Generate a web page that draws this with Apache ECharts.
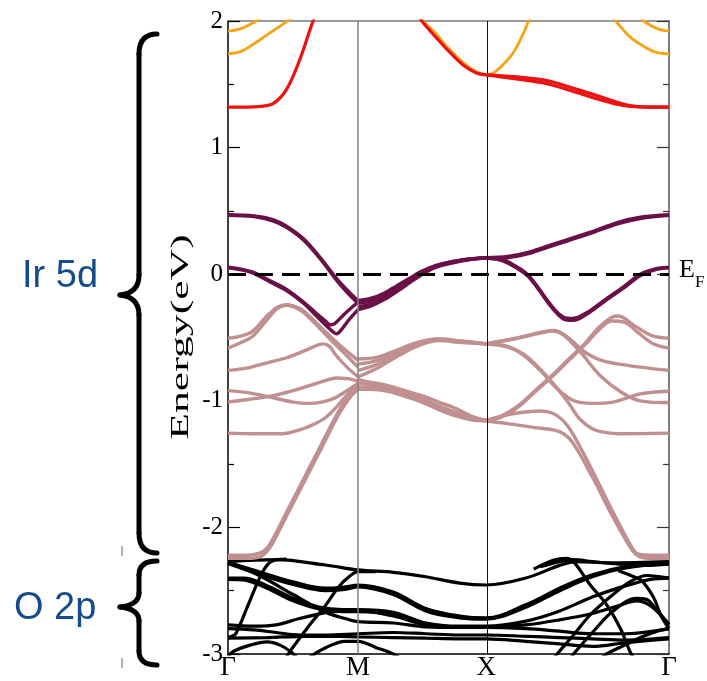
<!DOCTYPE html>
<html><head><meta charset="utf-8">
<script src="https://cdn.jsdelivr.net/npm/echarts@6/dist/echarts.min.js"></script>
<style>html,body{margin:0;padding:0;background:#fff}#c{width:707px;height:681px}</style>
</head><body><div id="c"></div>
<script>
// ---- axis data ----
const kPoints = [0, 1, 1.985, 3.39];
const kLabels = ['Γ', 'M', 'X', 'Γ'];
const energyMin = -3, energyMax = 2, energyStep = 1;
const fermiLevel = 0;

// ---- red / orange (upper Ir 5d) bands: [k, E] ----
const red1 = [[0,1.32],[0.15,1.32],[0.246,1.325],[0.35,1.35],[0.45,1.46],[0.55,1.69],[0.63,1.93],[0.68,2.08]];
const redLX = [[1.45,2.07],[1.49,2.0],[1.6,1.87],[1.68,1.78],[1.81,1.65],[1.91,1.59],[1.985,1.575]];
const redXG1 = [[1.985,1.575],[2.2,1.56],[2.45,1.53],[2.65,1.47],[2.84,1.41],[3.0,1.355],[3.1,1.33],[3.25,1.32],[3.39,1.32]];
const redXG2 = [[1.985,1.575],[2.2,1.545],[2.45,1.505],[2.65,1.445],[2.84,1.385],[3.0,1.34],[3.1,1.325],[3.25,1.32],[3.39,1.32]];
const orgG1 = [[0,1.92],[0.1,1.94],[0.2,1.99],[0.28,2.05]];
const orgG2 = [[0,1.74],[0.1,1.76],[0.2,1.82],[0.3,1.89],[0.4,1.96],[0.5,2.03]];
const orgLX = [[1.45,2.07],[1.5,2.0],[1.6,1.9],[1.68,1.80],[1.81,1.67],[1.91,1.60],[1.985,1.575]];
const orgRX = [[1.985,1.575],[2.04,1.59],[2.09,1.63],[2.19,1.745],[2.27,1.9],[2.31,2.0],[2.34,2.07]];
const orgGR1 = [[3.15,2.05],[3.195,2.0],[3.3,1.94],[3.39,1.92]];
const orgGR2 = [[2.93,2.06],[2.98,2.0],[3.09,1.875],[3.22,1.785],[3.3,1.75],[3.39,1.74]];

// ---- purple bands near E_F ----
const pur1a = [[0,0.47],[0.2,0.46],[0.35,0.43],[0.45,0.38],[0.58,0.28],[0.71,0.13],[0.84,-0.04],[0.93,-0.14],[1.0,-0.21]];
const pur1b = [[0,0.465],[0.2,0.455],[0.35,0.42],[0.45,0.37],[0.58,0.27],[0.71,0.12],[0.84,-0.055],[0.93,-0.16],[1.0,-0.23]];
const pur2a = [[0,0.055],[0.1,0.04],[0.19,0.016],[0.32,-0.05],[0.45,-0.12],[0.58,-0.22],[0.68,-0.31],[0.75,-0.37],[0.785,-0.40],[0.82,-0.39],[0.9,-0.31],[1.0,-0.22]];
const pur2b = [[0,0.05],[0.1,0.035],[0.19,0.01],[0.32,-0.06],[0.45,-0.13],[0.58,-0.23],[0.7,-0.35],[0.78,-0.43],[0.836,-0.47],[0.87,-0.44],[0.93,-0.36],[1.0,-0.28]];
const purMX1 = [[1.0,-0.21],[1.1,-0.19],[1.2,-0.15],[1.3,-0.09],[1.4,-0.03],[1.48,0.02],[1.6,0.07],[1.73,0.1],[1.86,0.12],[1.985,0.13]];
const purMX2 = [[1.0,-0.23],[1.1,-0.21],[1.2,-0.17],[1.3,-0.11],[1.4,-0.045],[1.48,0.01],[1.6,0.065],[1.73,0.1],[1.86,0.12],[1.985,0.13]];
const purMX3 = [[1.0,-0.26],[1.1,-0.235],[1.2,-0.185],[1.3,-0.12],[1.4,-0.055],[1.48,0.0],[1.6,0.06],[1.73,0.095],[1.86,0.118],[1.985,0.13]];
const purMX4 = [[1.0,-0.28],[1.1,-0.25],[1.2,-0.2],[1.3,-0.135],[1.4,-0.065],[1.48,-0.01],[1.6,0.055],[1.73,0.09],[1.86,0.115],[1.985,0.13]];
const purXG1a = [[1.985,0.13],[2.15,0.14],[2.3,0.17],[2.45,0.22],[2.6,0.27],[2.78,0.33],[3.0,0.41],[3.17,0.45],[3.39,0.47]];
const purXG1b = [[1.985,0.125],[2.15,0.13],[2.3,0.16],[2.45,0.21],[2.6,0.26],[2.78,0.32],[3.0,0.40],[3.17,0.44],[3.39,0.465]];
const purXG2a = [[1.985,0.13],[2.1,0.12],[2.2,0.07],[2.3,0.0],[2.38,-0.1],[2.45,-0.2],[2.52,-0.29],[2.58,-0.34],[2.65,-0.35],[2.78,-0.29],[2.9,-0.2],[3.04,-0.1],[3.17,0.0],[3.28,0.04],[3.39,0.055]];
const purXG2b = [[1.985,0.125],[2.1,0.11],[2.2,0.06],[2.3,-0.01],[2.38,-0.11],[2.45,-0.21],[2.52,-0.30],[2.58,-0.355],[2.65,-0.365],[2.78,-0.30],[2.9,-0.21],[3.04,-0.11],[3.17,-0.01],[3.28,0.035],[3.39,0.05]];

// ---- pink bands ----
const pkA1 = [[0,-0.506],[0.1,-0.49],[0.19,-0.45],[0.3,-0.33],[0.38,-0.26],[0.45,-0.24],[0.55,-0.27],[0.625,-0.33],[0.754,-0.46],[0.88,-0.58],[1.0,-0.68]];
const pkA2 = [[0,-0.585],[0.1,-0.54],[0.19,-0.49],[0.3,-0.36],[0.38,-0.27],[0.45,-0.245],[0.55,-0.28],[0.625,-0.345],[0.754,-0.48],[0.88,-0.61],[1.0,-0.735]];
const pkB = [[0,-0.76],[0.15,-0.74],[0.3,-0.70],[0.45,-0.66],[0.6,-0.6],[0.73,-0.55],[0.78,-0.57],[0.83,-0.64],[0.92,-0.74],[1.0,-0.81]];
const pkC2 = [[0,-0.92],[0.15,-0.935],[0.32,-0.97],[0.5,-1.01],[0.625,-1.02],[0.72,-1.01],[0.805,-0.985],[0.9,-0.93],[1.0,-0.86]];
const pkC1 = [[0,-1.01],[0.15,-0.99],[0.32,-0.965],[0.5,-0.92],[0.625,-0.88],[0.75,-0.84],[0.83,-0.82],[0.92,-0.825],[1.0,-0.845]];
const pkD = [[0,-1.255],[0.2,-1.26],[0.42,-1.26],[0.55,-1.23],[0.65,-1.19],[0.754,-1.13],[0.85,-1.03],[0.93,-0.94],[1.0,-0.88]];
const pkE1 = [[0,-2.22],[0.15,-2.22],[0.22,-2.21],[0.27,-2.19],[0.318,-2.14],[0.45,-1.88],[0.6,-1.58],[0.7,-1.38],[0.83,-1.12],[0.92,-0.97],[1.0,-0.89]];
const pkE2 = [[0,-2.245],[0.15,-2.245],[0.24,-2.235],[0.29,-2.2],[0.34,-2.13],[0.47,-1.87],[0.62,-1.57],[0.72,-1.37],[0.85,-1.11],[0.94,-0.97],[1.0,-0.91]];
const pkU1 = [[1.0,-0.67],[1.15,-0.655],[1.3,-0.6],[1.45,-0.54],[1.62,-0.51],[1.8,-0.53],[1.985,-0.55]];
const pkU2 = [[1.0,-0.71],[1.15,-0.68],[1.3,-0.615],[1.45,-0.55],[1.62,-0.515],[1.8,-0.53],[1.985,-0.55]];
const pkU3 = [[1.0,-0.76],[1.15,-0.71],[1.3,-0.63],[1.45,-0.56],[1.62,-0.52],[1.8,-0.535],[1.985,-0.55]];
const pkU4 = [[1.0,-0.81],[1.15,-0.74],[1.3,-0.65],[1.45,-0.57],[1.62,-0.525],[1.8,-0.54],[1.985,-0.55]];
const pkL1 = [[1.0,-0.83],[1.1,-0.855],[1.23,-0.88],[1.36,-0.92],[1.49,-0.96],[1.62,-1.01],[1.75,-1.06],[1.87,-1.12],[1.985,-1.155]];
const pkL2 = [[1.0,-0.86],[1.1,-0.875],[1.23,-0.9],[1.36,-0.94],[1.49,-0.985],[1.62,-1.04],[1.75,-1.09],[1.87,-1.135],[1.985,-1.155]];
const pkL3 = [[1.0,-0.89],[1.1,-0.895],[1.23,-0.915],[1.36,-0.955],[1.49,-1.0],[1.62,-1.06],[1.75,-1.11],[1.87,-1.145],[1.985,-1.155]];
const pkL4 = [[1.0,-0.91],[1.1,-0.91],[1.23,-0.925],[1.36,-0.965],[1.49,-1.01],[1.62,-1.07],[1.75,-1.12],[1.87,-1.15],[1.985,-1.16]];
const pkXa = [[1.985,-0.55],[2.2,-0.51],[2.4,-0.46],[2.51,-0.445],[2.6,-0.49],[2.68,-0.56],[2.75,-0.62],[2.87,-0.68],[3.07,-0.72],[3.39,-0.76]];
const pkXb = [[1.985,-0.55],[2.2,-0.51],[2.4,-0.465],[2.5,-0.45],[2.58,-0.48],[2.65,-0.55],[2.73,-0.64],[2.86,-0.80],[3.02,-0.93],[3.17,-1.0],[3.39,-1.015]];
const pkXc = [[1.985,-0.55],[2.15,-0.57],[2.27,-0.64],[2.4,-0.76],[2.53,-0.905],[2.66,-1.0],[2.8,-1.02],[2.96,-1.01],[3.17,-0.945],[3.39,-0.925]];
const pkXd = [[1.985,-0.55],[2.15,-0.575],[2.27,-0.63],[2.4,-0.75],[2.53,-0.9],[2.62,-1.02],[2.7,-1.14],[2.8,-1.22],[2.9,-1.25],[3.01,-1.26],[3.39,-1.255]];
const pkXe = [[1.985,-1.155],[2.1,-1.12],[2.23,-1.04],[2.36,-0.92],[2.49,-0.80],[2.62,-0.67],[2.75,-0.54],[2.85,-0.42],[2.95,-0.34],[3.0,-0.33],[3.13,-0.41],[3.26,-0.485],[3.39,-0.506]];
const pkXf = [[1.985,-1.16],[2.1,-1.13],[2.23,-1.05],[2.36,-0.93],[2.49,-0.81],[2.62,-0.68],[2.75,-0.55],[2.85,-0.44],[2.95,-0.37],[3.05,-0.38],[3.15,-0.46],[3.27,-0.55],[3.39,-0.585]];
const pkXg = [[1.985,-1.155],[2.2,-1.1],[2.4,-1.08],[2.5,-1.1],[2.58,-1.16],[2.65,-1.26],[2.8,-1.55],[2.95,-1.86],[3.1,-2.15],[3.15,-2.21],[3.25,-2.22],[3.39,-2.22]];
const pkXh = [[1.985,-1.16],[2.15,-1.18],[2.35,-1.21],[2.5,-1.23],[2.58,-1.26],[2.65,-1.33],[2.8,-1.6],[2.95,-1.9],[3.1,-2.17],[3.16,-2.23],[3.25,-2.245],[3.39,-2.245]];

// ---- black (O 2p) bands ----
const bk1 = [[0,-2.27],[0.37,-2.255],[0.75,-2.297],[1.0,-2.336],[1.27,-2.355],[1.52,-2.39],[1.78,-2.44],[1.985,-2.455],[2.29,-2.40],[2.55,-2.30],[2.68,-2.27],[2.93,-2.28],[3.39,-2.27]];
const bk2a = [[0,-2.275],[0.24,-2.35],[0.5,-2.43],[0.75,-2.48],[0.9,-2.47],[1.0,-2.455],[1.27,-2.51],[1.52,-2.64],[1.78,-2.70],[1.985,-2.715],[2.29,-2.61],[2.55,-2.48],[2.8,-2.375],[3.06,-2.31],[3.39,-2.28]];
const bk2b = [[0,-2.285],[0.24,-2.37],[0.5,-2.45],[0.75,-2.50],[0.9,-2.49],[1.0,-2.47],[1.27,-2.53],[1.52,-2.66],[1.78,-2.715],[1.985,-2.725],[2.29,-2.63],[2.55,-2.50],[2.8,-2.39],[3.06,-2.32],[3.39,-2.285]];
const bk3 = [[0,-2.40],[0.12,-2.40],[0.3,-2.46],[0.5,-2.56],[0.7,-2.63],[0.88,-2.65],[1.0,-2.65],[1.27,-2.67],[1.52,-2.755],[1.78,-2.78],[1.985,-2.78],[2.29,-2.74],[2.55,-2.66],[2.8,-2.55],[3.06,-2.46],[3.25,-2.41],[3.39,-2.40]];
const bk3b = [[0,-2.41],[0.12,-2.415],[0.3,-2.48],[0.5,-2.58],[0.7,-2.645],[0.88,-2.665],[1.0,-2.665],[1.27,-2.685],[1.52,-2.765],[1.78,-2.79],[1.985,-2.79]];
const bk4 = [[0,-2.87],[0.03,-2.86],[0.06,-2.84],[0.16,-2.6],[0.267,-2.35],[0.34,-2.265],[0.45,-2.25]];
const bk5 = [[0.4,-3.1],[0.497,-2.95],[0.62,-2.78],[0.754,-2.61],[0.85,-2.47],[0.93,-2.39],[1.0,-2.35],[1.14,-2.35]];
const bk6 = [[0,-2.77],[0.2,-2.78],[0.37,-2.77],[0.55,-2.72],[0.81,-2.665],[1.0,-2.66],[1.27,-2.70],[1.52,-2.77],[1.78,-2.79],[1.985,-2.79],[2.29,-2.80],[2.55,-2.82],[2.8,-2.84],[3.06,-2.84],[3.39,-2.80]];
const bk7 = [[0,-2.80],[0.2,-2.81],[0.37,-2.83],[0.55,-2.85],[0.75,-2.85],[1.0,-2.84],[1.27,-2.83],[1.52,-2.84],[1.78,-2.85],[1.985,-2.85],[2.29,-2.86],[2.55,-2.87],[2.8,-2.88],[3.06,-2.89],[3.39,-2.87]];
const bk8 = [[0,-2.28],[0.24,-2.38],[0.5,-2.53],[0.75,-2.67],[0.9,-2.72],[1.0,-2.745],[1.27,-2.755],[1.52,-2.785],[1.78,-2.79],[1.985,-2.79],[2.29,-2.77],[2.55,-2.73],[2.8,-2.68],[3.0,-2.62],[3.14,-2.58],[3.25,-2.62],[3.39,-2.765]];
const bk9 = [[0,-2.875],[0.3,-2.87],[0.6,-2.86],[0.85,-2.86],[1.0,-2.865],[1.27,-2.87],[1.52,-2.875],[1.78,-2.88],[1.985,-2.88],[2.29,-2.9],[2.55,-2.92],[2.8,-2.94],[3.06,-2.91],[3.39,-2.88]];
const bk10 = [[0,-3.02],[0.04,-2.98],[0.17,-2.93],[0.3,-2.905],[0.4,-2.93],[0.48,-2.98],[0.55,-3.05]];
const bk11 = [[0.62,-3.03],[0.75,-2.95],[0.9,-2.9],[1.0,-2.9],[1.14,-2.95],[1.27,-3.0],[1.35,-3.05]];
const bk12 = [[2.35,-2.33],[2.5,-2.26],[2.6,-2.245],[2.656,-2.27],[2.785,-2.455],[2.91,-2.61],[3.015,-2.795],[3.09,-2.98],[3.13,-3.05]];
const bk13 = [[2.45,-3.1],[2.53,-3.0],[2.656,-2.85],[2.785,-2.69],[2.96,-2.53],[3.09,-2.43],[3.22,-2.38],[3.39,-2.40]];
const bk14 = [[2.6,-3.08],[2.656,-3.0],[2.81,-2.82],[2.96,-2.66],[3.14,-2.56],[3.22,-2.57],[3.3,-2.66],[3.39,-2.77]];
const bk15 = [[3.0,-2.34],[3.12,-2.39],[3.18,-2.42],[3.27,-2.55],[3.33,-2.70],[3.39,-2.80]];
const bk16 = [[2.85,-3.05],[2.91,-3.0],[3.05,-2.93],[3.17,-2.87],[3.3,-2.82],[3.39,-2.80]];
const bk17 = [[2.4,-2.31],[2.55,-2.27],[2.65,-2.255],[2.8,-2.27],[3.0,-2.29],[3.2,-2.30],[3.39,-2.29]];

const blackBands = [bk1,bk2a,bk2b,bk3,bk3b,bk4,bk5,bk6,bk7,bk8,bk9,bk10,bk11,bk12,bk13,bk14,bk15,bk16,bk17];
const pinkBands = [pkA1,pkA2,pkB,pkC2,pkC1,pkD,pkE1,pkE2,pkU1,pkU2,pkU3,pkU4,pkL1,pkL2,pkL3,pkL4,pkXa,pkXb,pkXc,pkXd,pkXe,pkXf,pkXg,pkXh];
const purpleBands = [pur1a,pur1b,pur2a,pur2b,purMX1,purMX2,purMX3,purMX4,purXG1a,purXG1b,purXG2a,purXG2b];
const redBands = [red1,redLX,redXG1,redXG2];
const orangeBands = [orgG1,orgG2,orgLX,orgRX,orgGR1,orgGR2];

const groups = [
  {bands: blackBands, color: '#000000', width: 3.2},
  {bands: pinkBands, color: '#c09090', width: 3.4},
  {bands: purpleBands, color: '#6a1048', width: 3.4},
  {bands: orangeBands, color: '#f4a416', width: 2.8},
  {bands: redBands, color: '#ee1111', width: 3.2}
];

const series = [];
series.push({
  type: 'line', data: [], silent: true, z: 1,
  markLine: {
    silent: true, symbol: ['none','none'], label: {show: false}, animation: false,
    data: [
      {xAxis: kPoints[1], lineStyle: {type: 'solid', color: '#808080', width: 1.5}},
      {xAxis: kPoints[2], lineStyle: {type: 'solid', color: '#111111', width: 1}}
    ]
  }
});
groups.forEach((g, gi) => {
  g.bands.forEach(b => {
    series.push({
      type: 'line', data: b, showSymbol: false, smooth: 0.35, silent: true, z: 2 + gi,
      lineStyle: {color: g.color, width: g.width}
    });
  });
});
series.push({
  type: 'line', data: [], silent: true, z: 10,
  markLine: {
    silent: true, symbol: ['none','none'], label: {show: false}, animation: false, z: 10,
    data: [{yAxis: fermiLevel, lineStyle: {type: [18, 9], color: '#000', width: 3}}]
  }
});

// brace drawing helper (decoration only)
function brace(top, tip, bottom, r) {
  const xs = 139, xh = 157, xt = 120;
  const st = {stroke: '#000', lineWidth: 5, lineCap: 'round'};
  return [
    {type: 'bezierCurve', shape: {x1: xh, y1: top, cpx1: xs, cpy1: top, x2: xs, y2: top + r}, style: st},
    {type: 'line', shape: {x1: xs, y1: top + r, x2: xs, y2: tip - r}, style: st},
    {type: 'bezierCurve', shape: {x1: xs, y1: tip - r, cpx1: xs, cpy1: tip - 2, x2: xt, y2: tip}, style: st},
    {type: 'bezierCurve', shape: {x1: xt, y1: tip, cpx1: xs, cpy1: tip + 2, x2: xs, y2: tip + r}, style: st},
    {type: 'line', shape: {x1: xs, y1: tip + r, x2: xs, y2: bottom - r}, style: st},
    {type: 'bezierCurve', shape: {x1: xs, y1: bottom - r, cpx1: xs, cpy1: bottom, x2: xh, y2: bottom}, style: st}
  ];
}

const serif = '"Liberation Serif", "DejaVu Serif", serif';
const chart = echarts.init(document.getElementById('c'), null, {renderer: 'canvas'});
chart.setOption({
  animation: false,
  backgroundColor: '#fff',
  grid: {left: 228, top: 21, width: 441, height: 635},
  xAxis: [{
    type: 'value', min: kPoints[0], max: kPoints[3], position: 'bottom',
    axisLine: {onZero: false, lineStyle: {color: '#000', width: 1.5}},
    axisTick: {show: false}, splitLine: {show: false},
    axisLabel: {
      customValues: kPoints, showMinLabel: true, showMaxLabel: true,
      formatter: v => { let bi = 0; kPoints.forEach((p, i) => { if (Math.abs(p - v) < Math.abs(kPoints[bi] - v)) bi = i; }); return kLabels[bi]; },
      fontFamily: serif, fontSize: 27, color: '#000', margin: 0
    }
  }, {
    type: 'value', min: kPoints[0], max: kPoints[3], position: 'top',
    axisLine: {onZero: false, lineStyle: {color: '#777', width: 1.5}},
    axisTick: {show: false}, axisLabel: {show: false}, splitLine: {show: false}
  }],
  yAxis: [{
    type: 'value', min: energyMin, max: energyMax, interval: energyStep, position: 'left',
    axisLine: {show: true, onZero: false, lineStyle: {color: '#000', width: 1.5}},
    axisTick: {show: true, inside: true, length: 12, lineStyle: {color: '#000', width: 1.2}},
    minorTick: {show: true, splitNumber: 2, length: 6, lineStyle: {color: '#000', width: 1.2}},
    axisLabel: {fontFamily: serif, fontSize: 25, color: '#000', margin: 5},
    splitLine: {show: false}
  }, {
    type: 'value', min: energyMin, max: energyMax, interval: energyStep, position: 'right',
    axisLine: {show: true, onZero: false, lineStyle: {color: '#555', width: 1.5}},
    axisTick: {show: true, inside: true, length: 12, lineStyle: {color: '#333', width: 1.2}},
    minorTick: {show: true, splitNumber: 2, length: 6, lineStyle: {color: '#333', width: 1.2}},
    axisLabel: {show: false}, splitLine: {show: false}
  }],
  series: series,
  graphic: [].concat(
    brace(34, 295, 553, 20),
    brace(561, 607, 665, 14),
    [
      {type: 'line', shape: {x1: 122, y1: 546, x2: 122, y2: 556}, style: {stroke: '#999', lineWidth: 1.5}},
      {type: 'line', shape: {x1: 122, y1: 658, x2: 122, y2: 668}, style: {stroke: '#999', lineWidth: 1.5}},
      {type: 'text', x: 181, y: 337, rotation: Math.PI / 2, scaleX: 1.68,
       style: {text: 'Energy(eV)', font: '26px "Liberation Serif", serif', fill: '#000', align: 'center', verticalAlign: 'middle'}},
      {type: 'text', x: 22, y: 277, style: {text: 'Ir 5d', font: '38px "Liberation Sans", Arial, sans-serif', fill: '#164b8a', verticalAlign: 'middle'}},
      {type: 'text', x: 14, y: 609, style: {text: 'O 2p', font: '38px "Liberation Sans", Arial, sans-serif', fill: '#164b8a', verticalAlign: 'middle'}},
      {type: 'text', x: 679, y: 270, style: {text: 'E', font: '26px "Liberation Serif", serif', fill: '#000', verticalAlign: 'middle'}},
      {type: 'text', x: 695, y: 283, style: {text: 'F', font: '17px "Liberation Serif", serif', fill: '#000', verticalAlign: 'middle'}}
    ]
  )
});
</script>
</body></html>
